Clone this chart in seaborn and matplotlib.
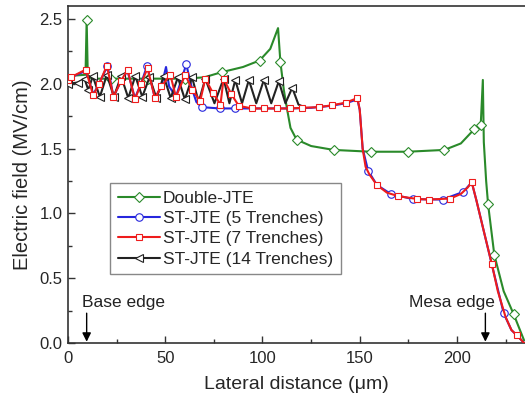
import matplotlib
matplotlib.use("Agg")
import matplotlib.pyplot as plt
import pandas as pd
import seaborn as sns

# Double-JTE
g_x = [0, 9.0, 9.6, 10.2, 14, 22, 41, 60, 70, 79, 90, 98.5, 104, 108, 109.2, 111, 112.7, 114.4,
       117.5, 125, 136.6, 155.7, 174.6, 193.5, 202, 208.9, 212.2, 213.3, 213.8, 215, 216, 219.2,
       224, 229.2, 234.5]
g_y = [2.06, 2.07, 2.49, 2.05, 2.04, 2.04, 2.04, 2.04, 2.05, 2.09, 2.13, 2.18, 2.27, 2.43, 2.17,
       1.95, 1.80, 1.66, 1.57, 1.52, 1.49, 1.476, 1.476, 1.49, 1.54, 1.65, 1.68, 2.03, 1.55, 1.25,
       1.07, 0.68, 0.4, 0.22, 0.02]
g_marks = [2, 5, 6, 7, 9, 11, 14, 18, 20, 21, 22, 23, 25, 26, 30, 31, 33]

# ST-JTE (5 Trenches)
b_x = [0, 1.4, 9.1, 13, 16, 20.3, 23.4, 27.2, 30.6, 34.4, 37.5, 40.7, 44.7, 48, 50.4, 52, 55.5,
       60.8, 64, 66, 68.9, 78, 85.7, 95, 105, 115, 125, 135, 142.8, 148.8, 150, 151.5, 154.3,
       158.8, 166, 177.5, 192.6, 203.2, 207.6, 210, 214, 218, 224, 228, 232, 234.5]
b_y = [2.03, 2.05, 2.1, 1.92, 2.0, 2.14, 1.9, 2.02, 2.1, 1.89, 2.0, 2.14, 1.89, 1.98, 2.13, 1.98,
       1.9, 2.15, 1.95, 1.86, 1.82, 1.81, 1.81, 1.81, 1.81, 1.81, 1.815, 1.83, 1.85, 1.88, 1.8,
       1.5, 1.33, 1.22, 1.15, 1.11, 1.107, 1.166, 1.24, 1.1, 0.85, 0.6, 0.23, 0.1, 0.04, 0.0]
b_marks = [5, 11, 17, 20, 21, 22, 32, 34, 35, 36, 37, 42]

# ST-JTE (7 Trenches)
r_x = [0, 1.4, 9.1, 13, 16, 20, 23.4, 27.2, 30.6, 34.4, 37.5, 40.9, 44.7, 48, 52.6, 55.5, 60.3,
       64, 68, 70.6, 74.5, 78.4, 80, 84, 87.8, 94.7, 101, 107.6, 114.4, 120.5, 129, 135.9, 142.8,
       148.8, 150, 151.5, 153, 155, 158.8, 164, 169.9, 179.2, 185.4, 196.6, 202, 205.5, 207.6,
       210, 214, 217.9, 221, 225, 228, 230.8, 234.5]
r_y = [2.03, 2.05, 2.11, 1.91, 2.0, 2.14, 1.9, 2.02, 2.11, 1.88, 2.0, 2.12, 1.89, 1.98, 2.07, 1.9,
       2.07, 1.95, 1.87, 2.04, 1.93, 1.84, 2.04, 1.92, 1.83, 1.81, 1.81, 1.81, 1.81, 1.815, 1.82,
       1.835, 1.855, 1.89, 1.8, 1.5, 1.36, 1.3, 1.22, 1.16, 1.133, 1.112, 1.107, 1.115, 1.15, 1.2,
       1.24, 1.1, 0.85, 0.61, 0.4, 0.2, 0.1, 0.06, 0.0]
r_marks = list(range(0, 34)) + [38, 40, 41, 42, 43, 46, 49, 53]

# ST-JTE (14 Trenches)
k_x = [0, 5, 8.5, 10.5, 12.7, 16.4, 20, 23.6, 27.3, 31, 34.6, 38.2, 41.9, 45.5, 49.2, 52.8, 56.5,
       60.1, 63.8, 67.2, 70.6, 75.3, 80, 83, 86, 89.5, 93, 96.8, 100.7, 104.5, 108.4, 111.8,
       115.3, 118.5, 121.5]
k_y = [2.0, 2.01, 2.04, 1.95, 2.06, 1.9, 2.07, 1.9, 2.06, 1.89, 2.06, 1.9, 2.05, 1.89, 2.06, 1.89,
       2.05, 1.88, 2.05, 1.86, 2.04, 1.85, 2.04, 1.85, 2.03, 1.85, 2.03, 1.85, 2.03, 1.85, 2.02,
       1.85, 1.97, 1.84, 1.82]
k_marks = list(range(0, 18)) + [18, 20, 22, 24, 26, 28, 30, 32]

sns.set_style("ticks")
plt.rcParams["font.family"] = ["Liberation Sans", "DejaVu Sans"]

fig = plt.figure(figsize=(5.25, 4.03), dpi=100)
ax = fig.add_axes([0.1295, 0.1489, 0.8706, 0.836])

series = [
    ("Double-JTE", g_x, g_y, g_marks, "#2a8a2a", "D", 4.6, 1),
    ("ST-JTE (5 Trenches)", b_x, b_y, b_marks, "#2626dd", "o", 5.4, 2),
    ("ST-JTE (7 Trenches)", r_x, r_y, r_marks, "#ee1c1c", "s", 4.6, 4),
    ("ST-JTE (14 Trenches)", k_x, k_y, k_marks, "#222222", "<", 5.6, 3),
]

for name, xs, ys, marks, col, mk, ms, z in series:
    df = pd.DataFrame({"x": xs, "y": ys})
    sns.lineplot(data=df, x="x", y="y", ax=ax, sort=False, estimator=None,
                 color=col, lw=1.5, marker=mk, markersize=ms, markevery=marks,
                 markerfacecolor="white", markeredgecolor=col, markeredgewidth=0.8,
                 label=name, zorder=z)

ax.set_xlim(0, 235)
ax.set_ylim(0, 2.6)
ax.set_xticks([0, 50, 100, 150, 200])
ax.set_xticks([25, 75, 125, 175, 225], minor=True)
ax.set_yticks([0, 0.5, 1.0, 1.5, 2.0, 2.5])
ax.set_yticks([0.25, 0.75, 1.25, 1.75, 2.25], minor=True)
ax.set_yticklabels(["0.0", "0.5", "1.0", "1.5", "2.0", "2.5"])
ax.tick_params(which="major", direction="in", length=5, width=1, labelsize=12, color="#333333")
ax.tick_params(which="minor", direction="in", length=3, width=1, color="#333333")
ax.tick_params(axis="x", pad=6)
ax.tick_params(axis="y", pad=4)
ax.spines["right"].set_visible(False)
for s in ["left", "bottom", "top"]:
    ax.spines[s].set_linewidth(1.2)
    ax.spines[s].set_color("#333333")

ax.set_xlabel("Lateral distance (\u03bcm)", fontsize=14, labelpad=7)
ax.set_ylabel("Electric field (MV/cm)", fontsize=14.5, labelpad=5)

ax.annotate("", xy=(9.6, 0.01), xytext=(9.6, 0.23),
            arrowprops=dict(arrowstyle="-|>", color="black", lw=1, mutation_scale=13,
                            shrinkA=0, shrinkB=0))
ax.text(7.0, 0.31, "Base edge", fontsize=12.5, ha="left", va="center", color="#222222")
ax.annotate("", xy=(214.6, 0.01), xytext=(214.6, 0.23),
            arrowprops=dict(arrowstyle="-|>", color="black", lw=1, mutation_scale=13,
                            shrinkA=0, shrinkB=0))
ax.text(175.4, 0.31, "Mesa edge", fontsize=12.5, ha="left", va="center", color="#222222")

leg = ax.legend(loc="upper left", bbox_to_anchor=(0.092, 0.476), borderaxespad=0,
                fontsize=12.5, frameon=True, fancybox=False, framealpha=1,
                edgecolor="#888888", handlelength=2.4, handletextpad=0.2,
                labelspacing=0.3, borderpad=0.45)
leg.get_frame().set_linewidth(1.0)

fig.savefig("out.png", dpi=100)
